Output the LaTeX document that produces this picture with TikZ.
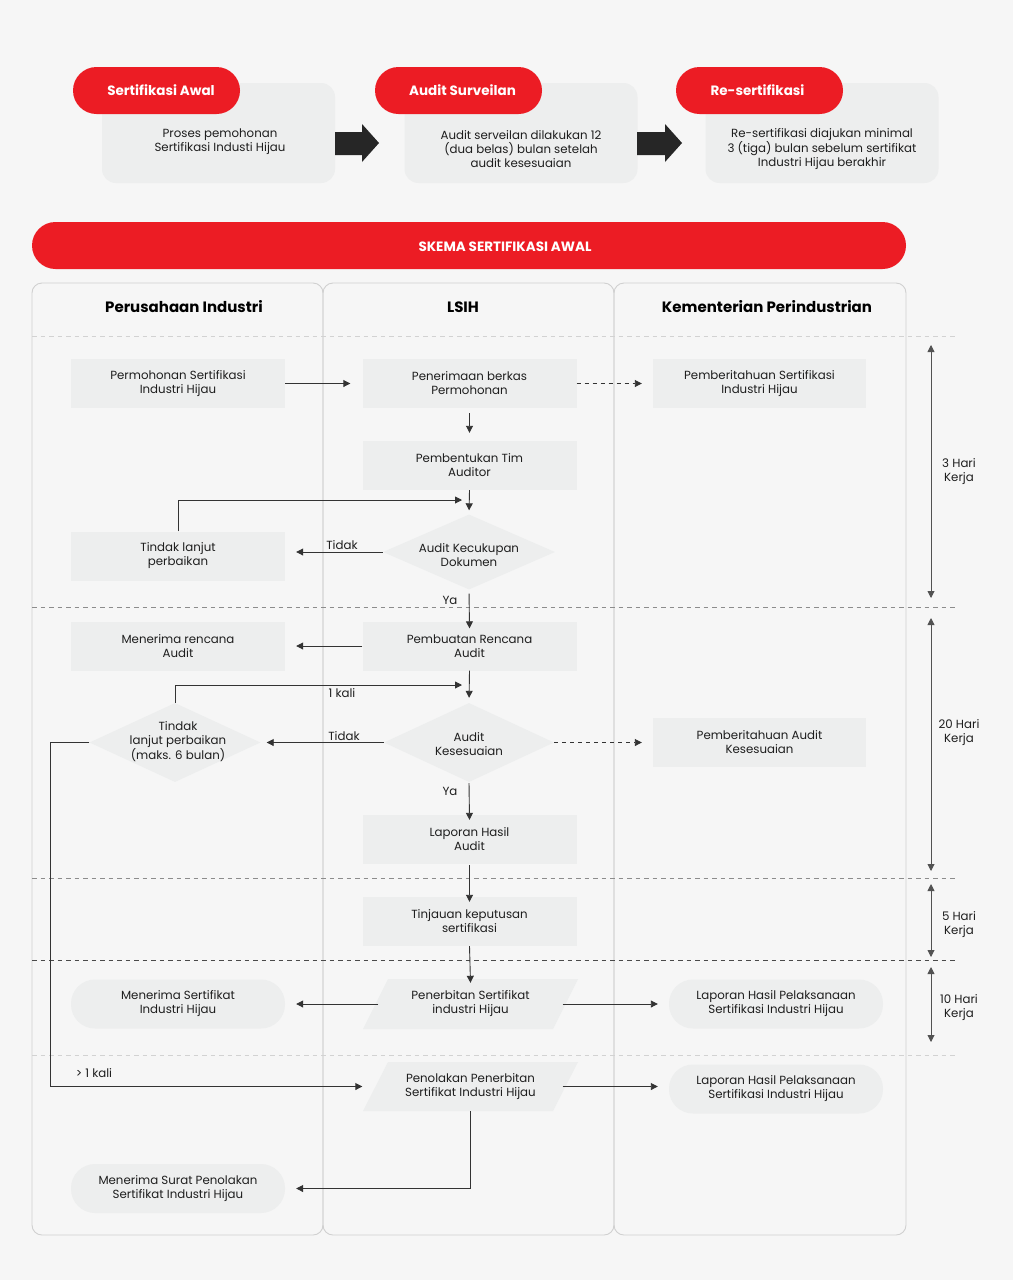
\documentclass[tikz,border=0pt]{standalone}
\usepackage{fontspec}
\setmainfont{Poppins}
\usetikzlibrary{arrows.meta,shapes.geometric}
\definecolor{bgc}{HTML}{F6F6F6}
\definecolor{boxc}{HTML}{EDEEEE}
\definecolor{redc}{HTML}{EC1C24}
\definecolor{linec}{HTML}{333333}
\definecolor{lanec}{HTML}{D0D0D0}
\definecolor{txtc}{HTML}{1E1E1E}
\definecolor{dashlight}{HTML}{D2D2D2}
\definecolor{dashmid}{HTML}{8C8C8C}
\definecolor{dashdark}{HTML}{4A4A4A}
\begin{document}
\begin{tikzpicture}[x=1pt,y=-1pt,
  body/.style={font=\fontsize{11.8}{14}\selectfont, text=txtc, align=center, inner sep=0pt},
  hdr/.style={font=\fontsize{15}{17}\selectfont\bfseries, text=black, inner sep=0pt},
  rbox/.style={body, fill=boxc, minimum width=214pt, minimum height=49pt},
  pillbox/.style={rbox, rounded corners=24pt},
  dia/.style={diamond, fill=boxc, inner sep=0pt},
  topbox/.style={fill=boxc, rounded corners=14pt, minimum width=233pt, minimum height=100pt, inner sep=0pt},
  redpill/.style={fill=redc, text=white, rounded corners=23.5pt, minimum width=167pt, minimum height=47pt,
     inner sep=0pt, font=\fontsize{13.5}{15}\selectfont\bfseries},
  arr/.style={draw=linec, line width=0.9pt, -{Triangle[length=7pt,width=7pt]}},
  darr/.style={arr, dash pattern=on 4pt off 4pt},
  tarr/.style={draw=linec!85, line width=0.9pt, {Triangle[length=7pt,width=7pt]}-{Triangle[length=7pt,width=7pt]}},
  lane/.style={draw=lanec, line width=0.9pt, rounded corners=10pt},
  sep/.style={line width=0.9pt, dash pattern=on 4.5pt off 4pt},
  blockarr/.style={fill=black!85}
]
% background
\fill[bgc] (0,0) rectangle (1013,1280);

% ---------- top row ----------
\node[topbox] (tb1) at (218.5,133) {};
\node[topbox] (tb2) at (521,133) {};
\node[topbox] (tb3) at (822,133) {};
\node[redpill] (rp1) at (156.5,90.5) {};
\node[redpill] (rp2) at (458.5,90.5) {};
\node[redpill] (rp3) at (759.5,90.5) {};
\node[redpill, fill=none, minimum width=0pt] (rl1) at (161,90.5) {Sertifikasi Awal};
\node[redpill, fill=none, minimum width=0pt] (rl2) at (462.5,90.5) {Audit Surveilan};
\node[redpill, fill=none, minimum width=0pt] (rl3) at (757.5,90.5) {Re-sertifikasi};
\node[body] (tt1) at (220,142) {Proses pemohonan\\Sertifikasi Industi Hijau};
\node[body] (tt2) at (521,149) {Audit serveilan dilakukan 12\\(dua belas) bulan setelah\\audit kesesuaian};
\node[body] (tt3) at (822,149) {Re-sertifikasi diajukan minimal\\3 (tiga) bulan sebelum sertifikat\\Industri Hijau berakhir};
% block arrows
\fill[blockarr] (335,132) -- (362,132) -- (362,124) -- (379,143) -- (362,162) -- (362,155) -- (335,155) -- cycle;
\fill[blockarr] (637,132) -- (665,132) -- (665,124) -- (682,143) -- (665,162) -- (665,155) -- (637,155) -- cycle;

% ---------- banner ----------
\node[fill=redc, rounded corners=23.5pt, minimum width=874pt, minimum height=47pt, inner sep=0pt] (ban) at (469,245.5) {};
\node[text=white, inner sep=0pt, font=\fontsize{13.5}{15}\selectfont\bfseries] (bant) at (505,246.5) {SKEMA SERTIFIKASI AWAL};

% ---------- lanes ----------
\draw[lane] (32,283) rectangle (323,1235);
\draw[lane] (323,283) rectangle (614,1235);
\draw[lane] (614,283) rectangle (906,1235);
\node[hdr] (h1) at (184,307) {Perusahaan Industri};
\node[hdr] (h2) at (463,307) {LSIH};
\node[hdr] (h3) at (767,307) {Kementerian Perindustrian};

% separators
\draw[sep, draw=dashlight] (32,336) -- (955,336);
\draw[sep, draw=dashmid] (32,607) -- (955,607);
\draw[sep, draw=dashmid] (32,878) -- (955,878);
\draw[sep, draw=dashdark] (32,960.5) -- (955,960.5);
\draw[sep, draw=dashlight] (32,1055) -- (955,1055);

% time arrows
\coordinate (ta1) at (931,345); \coordinate (tb1e) at (931,598);
\coordinate (ta2) at (931,618); \coordinate (tb2e) at (931,871);
\coordinate (ta3) at (931,884); \coordinate (tb3e) at (931,957);
\coordinate (ta4) at (931,967); \coordinate (tb4e) at (931,1042);
\draw[tarr] (ta1) -- (tb1e);
\draw[tarr] (ta2) -- (tb2e);
\draw[tarr] (ta3) -- (tb3e);
\draw[tarr] (ta4) -- (tb4e);
\node[body] (tl1) at (959,471.5) {3 Hari\\Kerja};
\node[body] (tl2) at (959,733) {20 Hari\\Kerja};
\node[body] (tl3) at (959,925) {5 Hari\\Kerja};
\node[body] (tl4) at (959,1008) {10 Hari\\Kerja};

% ---------- flow nodes ----------
\node[rbox] (pm) at (178,383.5) {Permohonan Sertifikasi\\Industri Hijau};
\node[rbox] (pn) at (469.5,383.5) {Penerimaan berkas\\Permohonan};
\node[rbox, minimum width=213pt] (ps) at (759.5,383.5) {Pemberitahuan Sertifikasi\\Industri Hijau};
\node[rbox] (pt) at (469.5,465.5) {Pembentukan Tim\\Auditor};
\node[dia, minimum width=172pt, minimum height=75pt] (d1) at (469,552) {};
\node[body] (d1t) at (469,555) {Audit Kecukupan\\Dokumen};
\node[rbox] (tl) at (178,556) {Tindak lanjut\\perbaikan};

\node[rbox] (mr) at (178,646) {Menerima rencana\\Audit};
\node[rbox] (pr) at (469.5,646) {Pembuatan Rencana\\Audit};
\node[dia, minimum width=170pt, minimum height=79pt] (d2) at (469,742.5) {};
\node[body] (d2t) at (469,744.5) {Audit\\Kesesuaian};
\node[dia, minimum width=171pt, minimum height=79pt] (d3) at (175,742.5) {};
\node[body] (d3t) at (178,741.5) {Tindak\\lanjut perbaikan\\(maks. 6 bulan)};
\node[rbox, minimum width=213pt] (pa) at (759.5,742.5) {Pemberitahuan Audit\\Kesesuaian};
\node[rbox] (lh) at (469.5,839.5) {Laporan Hasil\\Audit};
\node[rbox] (tk) at (469.5,921.5) {Tinjauan keputusan\\sertifikasi};

% parallelograms
\fill[boxc] (363,1029) -- (388,979) -- (578,979) -- (553,1029) -- cycle;
\node[body, minimum width=190pt, minimum height=50pt] (pb) at (470.5,1004) {Penerbitan Sertifikat\\industri Hijau};
\fill[boxc] (363,1111) -- (388,1062) -- (578,1062) -- (553,1111) -- cycle;
\node[body, minimum width=190pt, minimum height=49pt] (pl) at (470.5,1086.5) {Penolakan Penerbitan\\Sertifikat Industri Hijau};

\node[pillbox] (mc) at (178,1004) {Menerima Sertifikat\\Industri Hijau};
\node[pillbox] (lp1) at (776,1004) {Laporan Hasil Pelaksanaan\\Sertifikasi Industri Hijau};
\node[pillbox] (lp2) at (776,1089) {Laporan Hasil Pelaksanaan\\Sertifikasi Industri Hijau};
\node[pillbox] (ms) at (178,1188.5) {Menerima Surat Penolakan\\Sertifikat Industri Hijau};

% ---------- connectors ----------
\draw[arr] (pm.east) -- ([xshift=-12pt]pn.west);
\draw[darr] (pn.east) -- ([xshift=-11pt]ps.west);
\draw[arr, shorten <=5pt, shorten >=8pt] (pn.south) -- (pt.north);
\draw[arr, shorten >=4pt] (pt.south) -- (d1.north);
\coordinate (j1) at (469,500);
\draw[arr] (tl.north) |- ([xshift=-7pt]j1);
\draw[arr] (d1.west) -- ([xshift=11pt]tl.east |- d1.west);
\node[body] (lt1) at (342,545) {Tidak};
\draw[arr, shorten <=4pt] (d1.south) -- ([yshift=-7pt]pr.north);
\node[body] (ya1) at (450,600) {Ya};

\draw[arr] (pr.west) -- ([xshift=11pt]mr.east);
\draw[arr, shorten >=5pt] (pr.south) -- (d2.north);
\coordinate (j2) at (469,685);
\draw[arr] (d3.north) |- ([xshift=-7pt]j2);
\node[body] (lk1) at (342,693.5) {1 kali};
\draw[arr] (d2.west) -- ([xshift=6pt]d3.east);
\node[body] (lt2) at (344,736) {Tidak};
\draw[darr] (d2.east) -- ([xshift=-11pt]pa.west);
\draw[arr, shorten <=1pt] (d2.south) -- ([yshift=-5pt]lh.north);
\node[body] (ya2) at (450,791) {Ya};
\draw[arr, shorten <=1pt] (lh.south) -- ([yshift=-5pt]tk.north);
\draw[arr] (tk.south) -- ([yshift=-4pt]pb.north);

\draw[arr] ([xshift=3pt]pb.west) -- ([xshift=11pt]mc.east);
\draw[arr] ([xshift=-3pt]pb.east) -- ([xshift=-11pt]lp1.west);
\draw[arr] (d3.west) -- ++(-39,0) |- ([xshift=-13pt]pl.west);
\node[body] (gk) at (94,1073.5) {> 1 kali};
\draw[arr] ([xshift=-3pt]pl.east) -- ([xshift=-11pt]lp2.west |- pl.east);
\draw[arr] (pl.south) |- ([xshift=11pt]ms.east);
\end{tikzpicture}
\end{document}
